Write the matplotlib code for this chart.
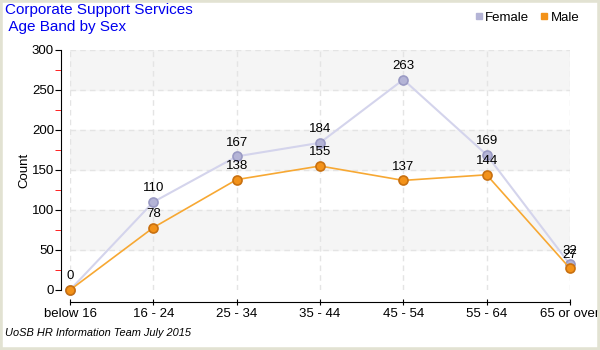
import numpy as np
import matplotlib
matplotlib.use('Agg')
import matplotlib.pyplot as plt
from matplotlib.patches import Rectangle
from matplotlib.ticker import MultipleLocator

plt.rcParams['font.family'] = ['Liberation Sans', 'DejaVu Sans']

age_bands = ['below 16', '16 - 24', '25 - 34', '35 - 44', '45 - 54', '55 - 64', '65 or over']
female = [0, 110, 167, 184, 263, 169, 32]
male = [0, 78, 138, 155, 137, 144, 27]

female_line = '#d4d4ec'
female_face = '#b4b4d6'
female_edge = '#9a9ac4'
male_line = '#f7a833'
male_face = '#f39219'
male_edge = '#c87010'

fig = plt.figure(figsize=(6, 3.5), dpi=100)
fig.patch.set_facecolor('white')
fig.patches.append(Rectangle((0, 0), 1, 1, transform=fig.transFigure, fill=False,
                             edgecolor='#e2e2d2', linewidth=4, zorder=10))

ax = fig.add_axes([70/600, 1-290/350, 500/600, 240/350])
ax.set_xlim(0, 6)
ax.set_ylim(0, 300)

# alternating bands
for lo in range(50, 300, 100):
    ax.axhspan(lo, lo + 50, color='#f5f5f5', zorder=0)

x = np.arange(len(age_bands))
for xi in x:
    ax.axvline(xi, color='#e4e4e4', lw=1, ls=(0, (4, 3)), zorder=1)
for yi in range(50, 301, 50):
    ax.axhline(yi, color='#e4e4e4', lw=1, ls=(0, (4, 3)), zorder=1)

ax.plot(x, female, color=female_line, lw=1.5, marker='o', ms=6.5,
        mfc=female_face, mec=female_edge, mew=1.2, clip_on=False, zorder=3)
ax.plot(x, male, color=male_line, lw=1.2, marker='o', ms=6.5,
        mfc=male_face, mec=male_edge, mew=1.2, clip_on=False, zorder=4)

for xi, v in zip(x, female):
    ax.annotate(str(v), (xi, v), xytext=(0, 5.5), textcoords='offset points',
                ha='center', va='bottom', fontsize=9.5, annotation_clip=False, zorder=5)
for xi, v in zip(x, male):
    if v == 0:
        continue
    ax.annotate(str(v), (xi, v), xytext=(0, 5.5), textcoords='offset points',
                ha='center', va='bottom', fontsize=9.5, annotation_clip=False, zorder=5)

for s in ['top', 'right']:
    ax.spines[s].set_visible(False)
ax.spines['left'].set_position(('outward', 6.5))
ax.spines['bottom'].set_position(('outward', 8.5))
ax.spines['bottom'].set_bounds(0, 6)

ax.set_xticks(x)
ax.set_xticklabels(age_bands, fontsize=9.5)
ax.yaxis.set_major_locator(MultipleLocator(50))
ax.yaxis.set_minor_locator(MultipleLocator(25))
ax.tick_params(axis='y', which='major', length=4, labelsize=9.5, pad=1)
ax.tick_params(axis='y', which='minor', length=4, color='red')
ax.tick_params(axis='x', length=5, labelsize=9.5, direction='inout', pad=2)
ax.set_ylabel('Count', fontsize=9.5, labelpad=1)

fig.text(0.009, 0.992, 'Corporate Support Services', color='#0000ee', fontsize=11,
         ha='left', va='top')
fig.text(0.009, 0.944, ' Age Band by Sex', color='#0000ee', fontsize=11,
         ha='left', va='top')
fig.text(0.009, 0.033, 'UoSB HR Information Team July 2015', fontsize=7.9,
         style='italic', ha='left', va='bottom')

h1 = plt.Line2D([], [], ls='', marker='s', ms=5, color=female_face)
h2 = plt.Line2D([], [], ls='', marker='s', ms=5, color=male_face)
fig.legend([h1, h2], ['Female', 'Male'], loc='upper right', bbox_to_anchor=(0.985, 1.0),
           ncol=2, frameon=False, fontsize=9.5, handlelength=0.6, handletextpad=0.2,
           columnspacing=0.8)

fig.savefig('out.png', dpi=100)
